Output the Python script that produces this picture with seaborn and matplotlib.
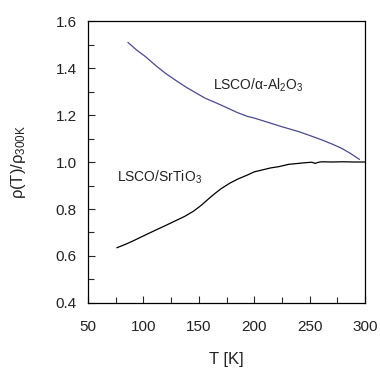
import numpy as np
import pandas as pd
import matplotlib
matplotlib.use("Agg")
import matplotlib.pyplot as plt
from matplotlib.ticker import MultipleLocator
import seaborn as sns

# --- data ---
T_al2o3 = [86, 94, 102, 111, 120, 129, 138, 147, 156, 164, 173, 185, 194, 200, 215, 225, 231, 241, 250, 261, 270, 279, 287, 295]
rho_al2o3 = [1.509, 1.476, 1.448, 1.411, 1.377, 1.348, 1.320, 1.295, 1.271, 1.255, 1.236, 1.210, 1.194, 1.187, 1.165, 1.150, 1.142, 1.128, 1.113, 1.094, 1.077, 1.058, 1.036, 1.011]

T_sto = [76, 84, 91, 106, 121, 137, 145, 152, 158, 164, 170, 178, 185, 194, 200, 215, 222, 231, 246, 252, 255, 258, 261, 270, 280, 290, 300]
rho_sto = [0.635, 0.650, 0.665, 0.699, 0.732, 0.768, 0.790, 0.815, 0.840, 0.864, 0.886, 0.910, 0.927, 0.945, 0.958, 0.975, 0.980, 0.990, 0.997, 0.999, 0.994, 0.999, 1.001, 1.000, 1.001, 1.000, 1.000]

df_al = pd.DataFrame({"T": T_al2o3, "rho": rho_al2o3})
df_sto = pd.DataFrame({"T": T_sto, "rho": rho_sto})

sns.set_style("ticks")
plt.rcParams["font.family"] = ["Liberation Sans", "DejaVu Sans"]
plt.rcParams["mathtext.fontset"] = "custom"
plt.rcParams["mathtext.rm"] = "Liberation Sans"
plt.rcParams["mathtext.it"] = "Liberation Sans"

fig = plt.figure(figsize=(3.8, 3.72), dpi=100)
ax = fig.add_axes([0.2316, 0.1855, 0.729, 0.758])

sns.lineplot(data=df_al, x="T", y="rho", ax=ax, color="#4a4a90", linewidth=0.9)
sns.lineplot(data=df_sto, x="T", y="rho", ax=ax, color="black", linewidth=0.9)

ax.set_xlim(50, 300)
ax.set_ylim(0.4, 1.6)
ax.xaxis.set_major_locator(MultipleLocator(50))
ax.xaxis.set_minor_locator(MultipleLocator(25))
ax.yaxis.set_major_locator(MultipleLocator(0.2))
ax.yaxis.set_minor_locator(MultipleLocator(0.1))
ax.yaxis.set_major_formatter(matplotlib.ticker.FormatStrFormatter("%.1f"))
ax.tick_params(which="both", direction="in", top=False, right=False,
               labelsize=11, labelcolor="#222222", width=0.8)
ax.tick_params(which="major", length=5)
ax.tick_params(which="minor", length=4)
ax.tick_params(axis="x", which="major", pad=12)
ax.tick_params(axis="y", which="major", pad=8)
for s in ax.spines.values():
    s.set_linewidth(0.9)
    s.set_color("black")

ax.set_xlabel("T [K]", fontsize=12, color="#222222", labelpad=13)
ax.set_ylabel(r"$\rho$(T)/$\rho_{\mathrm{300K}}$", fontsize=12, color="#222222", labelpad=20)

ax.text(163, 1.328, r"LSCO/$\alpha$-Al$_2$O$_3$", fontsize=10, color="#222222", va="center")
ax.text(76, 0.936, r"LSCO/SrTiO$_3$", fontsize=10, color="#222222", va="center")

fig.savefig("out.png", dpi=100)
